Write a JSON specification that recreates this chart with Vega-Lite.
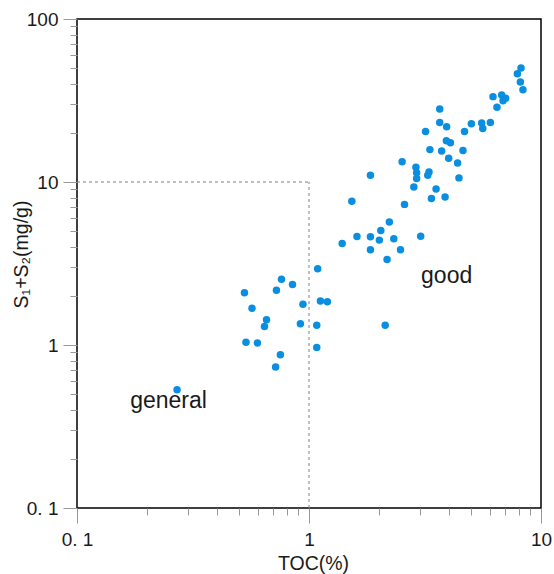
{
  "$schema": "https://vega.github.io/schema/vega-lite/v6.json",
  "width": 464,
  "height": 489,
  "autosize": {"type": "none"},
  "padding": {"left": 77, "top": 19, "right": 13, "bottom": 66},
  "config": {
    "font": "Liberation Sans",
    "view": {"stroke": "#000000", "strokeWidth": 1.5},
    "axis": {
      "domain": false,
      "grid": false,
      "tickColor": "#999999",
      "tickWidth": 1,
      "labelFontSize": 19,
      "labelFlush": false,
      "labelOverlap": false,
      "labelColor": "#1a1a1a",
      "titleFontSize": 19.5,
      "titleFontWeight": "normal",
      "titleColor": "#1a1a1a"
    }
  },
  "datasets": {
    "samples": [
      {"toc": 8.20, "s1s2": 50.0},
      {"toc": 7.91, "s1s2": 46.2},
      {"toc": 8.15, "s1s2": 41.1},
      {"toc": 8.36, "s1s2": 36.8},
      {"toc": 6.21, "s1s2": 33.4},
      {"toc": 6.77, "s1s2": 34.2},
      {"toc": 7.04, "s1s2": 32.6},
      {"toc": 6.86, "s1s2": 31.5},
      {"toc": 6.46, "s1s2": 28.7},
      {"toc": 3.66, "s1s2": 28.0},
      {"toc": 3.66, "s1s2": 23.2},
      {"toc": 3.92, "s1s2": 21.8},
      {"toc": 5.01, "s1s2": 22.8},
      {"toc": 5.55, "s1s2": 23.0},
      {"toc": 6.05, "s1s2": 23.2},
      {"toc": 5.61, "s1s2": 21.3},
      {"toc": 3.18, "s1s2": 20.4},
      {"toc": 4.68, "s1s2": 20.4},
      {"toc": 3.91, "s1s2": 17.9},
      {"toc": 4.07, "s1s2": 17.4},
      {"toc": 3.32, "s1s2": 15.8},
      {"toc": 3.73, "s1s2": 15.5},
      {"toc": 4.61, "s1s2": 15.6},
      {"toc": 4.00, "s1s2": 14.0},
      {"toc": 4.37, "s1s2": 13.1},
      {"toc": 2.52, "s1s2": 13.3},
      {"toc": 2.89, "s1s2": 12.3},
      {"toc": 2.91, "s1s2": 11.4},
      {"toc": 3.29, "s1s2": 11.5},
      {"toc": 3.25, "s1s2": 11.0},
      {"toc": 2.91, "s1s2": 10.5},
      {"toc": 4.43, "s1s2": 10.6},
      {"toc": 1.84, "s1s2": 11.0},
      {"toc": 2.83, "s1s2": 9.32},
      {"toc": 3.53, "s1s2": 9.06},
      {"toc": 3.37, "s1s2": 7.93},
      {"toc": 3.86, "s1s2": 8.09},
      {"toc": 1.53, "s1s2": 7.62},
      {"toc": 2.58, "s1s2": 7.29},
      {"toc": 2.22, "s1s2": 5.68},
      {"toc": 1.61, "s1s2": 4.63},
      {"toc": 1.84, "s1s2": 4.62},
      {"toc": 2.04, "s1s2": 5.04},
      {"toc": 2.01, "s1s2": 4.40},
      {"toc": 2.32, "s1s2": 4.49},
      {"toc": 1.39, "s1s2": 4.20},
      {"toc": 1.84, "s1s2": 3.84},
      {"toc": 2.48, "s1s2": 3.84},
      {"toc": 2.17, "s1s2": 3.35},
      {"toc": 3.03, "s1s2": 4.64},
      {"toc": 1.09, "s1s2": 2.94},
      {"toc": 0.761, "s1s2": 2.53},
      {"toc": 0.849, "s1s2": 2.35},
      {"toc": 0.527, "s1s2": 2.09},
      {"toc": 0.724, "s1s2": 2.17},
      {"toc": 0.568, "s1s2": 1.68},
      {"toc": 0.942, "s1s2": 1.78},
      {"toc": 1.12, "s1s2": 1.86},
      {"toc": 1.20, "s1s2": 1.84},
      {"toc": 0.656, "s1s2": 1.43},
      {"toc": 0.643, "s1s2": 1.30},
      {"toc": 0.918, "s1s2": 1.35},
      {"toc": 1.08, "s1s2": 1.32},
      {"toc": 2.13, "s1s2": 1.32},
      {"toc": 0.535, "s1s2": 1.04},
      {"toc": 0.599, "s1s2": 1.03},
      {"toc": 1.08, "s1s2": 0.967},
      {"toc": 0.753, "s1s2": 0.872},
      {"toc": 0.718, "s1s2": 0.733},
      {"toc": 0.270, "s1s2": 0.532}
    ],
    "hline": [{"x": 0.1, "x2": 1, "y": 10}],
    "vline": [{"x": 1, "y": 0.1, "y2": 10}],
    "zones": [
      {"toc": 0.248, "s1s2": 0.412, "label": "general"},
      {"toc": 3.92, "s1s2": 2.40, "label": "good"}
    ]
  },
  "layer": [
    {
      "data": {"name": "hline"},
      "mark": {"type": "rule", "color": "#808080", "strokeWidth": 1, "strokeDash": [3, 3]},
      "encoding": {
        "x": {
          "field": "x", "type": "quantitative",
          "scale": {"type": "log", "domain": [0.1, 10], "nice": false},
          "axis": {
            "orient": "bottom",
            "values": [0.2, 0.3, 0.4, 0.5, 0.6, 0.7, 0.8, 0.9, 2, 3, 4, 5, 6, 7, 8, 9],
            "tickSize": 7,
            "labels": false,
            "title": null
          }
        },
        "x2": {"field": "x2"},
        "y": {
          "field": "y", "type": "quantitative",
          "scale": {"type": "log", "domain": [0.1, 100], "nice": false},
          "axis": null
        }
      }
    },
    {
      "data": {"name": "vline"},
      "mark": {"type": "rule", "color": "#808080", "strokeWidth": 1, "strokeDash": [3, 3]},
      "encoding": {
        "x": {
          "field": "x", "type": "quantitative",
          "scale": {"type": "log", "domain": [0.1, 10], "nice": false},
          "axis": null
        },
        "y": {
          "field": "y", "type": "quantitative",
          "scale": {"type": "log", "domain": [0.1, 100], "nice": false},
          "axis": {
            "orient": "left",
            "values": [0.2, 0.3, 0.4, 0.5, 0.6, 0.7, 0.8, 0.9, 2, 3, 4, 5, 6, 7, 8, 9, 20, 30, 40, 50, 60, 70, 80, 90],
            "tickSize": 7,
            "labels": false,
            "title": null
          }
        },
        "y2": {"field": "y2"}
      }
    },
    {
      "data": {"name": "samples"},
      "mark": {"type": "circle", "size": 56, "color": "#0a8fe0", "opacity": 1},
      "encoding": {
        "x": {
          "field": "toc", "type": "quantitative",
          "scale": {"type": "log", "domain": [0.1, 10], "nice": false},
          "axis": {
            "orient": "bottom",
            "values": [0.1, 1, 10],
            "tickSize": 15,
            "labelPadding": 22,
            "labelBaseline": "alphabetic",
            "labelExpr": "datum.value < 0.5 ? '0. 1' : format(datum.value, 'd')",
            "title": "TOC(%)",
            "titleX": 236,
            "titleY": 61,
            "titleBaseline": "alphabetic"
          }
        },
        "y": {
          "field": "s1s2", "type": "quantitative",
          "scale": {"type": "log", "domain": [0.1, 100], "nice": false},
          "axis": {
            "orient": "left",
            "values": [0.1, 1, 10, 100],
            "tickSize": 14,
            "labelPadding": 5,
            "labelExpr": "datum.value < 0.5 ? '0. 1' : format(datum.value, 'd')",
            "title": "S₁+S₂(mg/g)",
            "titleX": -50,
            "titleY": 235,
            "titleAngle": -90,
            "titleBaseline": "alphabetic",
            "titleAlign": "center"
          }
        }
      }
    },
    {
      "data": {"name": "zones"},
      "mark": {"type": "text", "fontSize": 23, "color": "#1a1a1a", "align": "center", "baseline": "alphabetic"},
      "encoding": {
        "x": {
          "field": "toc", "type": "quantitative",
          "scale": {"type": "log", "domain": [0.1, 10], "nice": false},
          "axis": null
        },
        "y": {
          "field": "s1s2", "type": "quantitative",
          "scale": {"type": "log", "domain": [0.1, 100], "nice": false},
          "axis": null
        },
        "text": {"field": "label"}
      }
    }
  ],
  "resolve": {"axis": {"x": "independent", "y": "independent"}}
}
